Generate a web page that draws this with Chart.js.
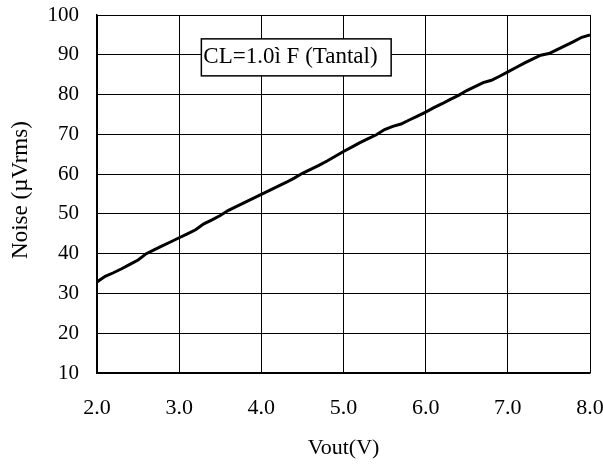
<!DOCTYPE html>
<html>
<head>
<meta charset="utf-8">
<script src="https://cdn.jsdelivr.net/npm/chart.js@4/dist/chart.umd.min.js"></script>
<style>
html,body{margin:0;padding:0;background:#fff;}
#wrap{width:603px;height:466px;}
</style>
</head>
<body>
<div id="wrap"><canvas id="c" width="603" height="466"></canvas></div>
<script>
const vout = [2.0,2.1,2.2,2.3,2.4,2.5,2.6,2.7,2.8,2.9,3.0,3.1,3.2,3.3,3.4,3.5,3.6,3.7,3.8,3.9,4.0,4.1,4.2,4.3,4.4,4.5,4.6,4.7,4.8,4.9,5.0,5.1,5.2,5.3,5.4,5.5,5.6,5.7,5.8,5.9,6.0,6.1,6.2,6.3,6.4,6.5,6.6,6.7,6.8,6.9,7.0,7.1,7.2,7.3,7.4,7.5,7.6,7.7,7.8,7.9,8.0];
const noise = [32.9,34.3,35.2,36.2,37.3,38.4,40.0,41.0,42.0,43.0,44.0,45.0,46.0,47.5,48.5,49.6,50.9,51.9,52.9,53.9,54.9,55.9,56.9,57.9,59.0,60.2,61.2,62.2,63.3,64.5,65.7,66.8,67.9,68.9,69.9,71.2,72.0,72.6,73.6,74.6,75.6,76.7,77.7,78.8,79.8,81.0,82.0,83.0,83.6,84.6,85.7,86.8,87.9,88.9,89.9,90.3,91.3,92.3,93.3,94.4,95.0];
const xTicks = [2,3,4,5,6,7,8];
const yTicks = [10,20,30,40,50,60,70,80,90,100];
const seriesLabel = 'CL=1.0ì F (Tantal)';
const xTitle = 'Vout(V)';
const yTitle = 'Noise (µVrms)';

const FONT = "'Liberation Serif', 'Times New Roman', serif";

const annotPlugin = {
  id: 'annot',
  afterDatasetsDraw(chart) {
    const ctx = chart.ctx;
    const xs = chart.scales.x, ys = chart.scales.y;
    const x1 = xs.getPixelForValue(3.27), x2 = xs.getPixelForValue(5.58);
    const y1 = ys.getPixelForValue(94.0), y2 = ys.getPixelForValue(84.7);
    ctx.save();
    ctx.fillStyle = '#fff';
    ctx.fillRect(x1, y1, x2 - x1, y2 - y1);
    ctx.strokeStyle = '#000';
    ctx.lineWidth = 1.5;
    ctx.strokeRect(x1, y1, x2 - x1, y2 - y1);
    ctx.fillStyle = '#000';
    ctx.font = "23px " + FONT;
    ctx.textAlign = 'left';
    ctx.textBaseline = 'middle';
    ctx.fillText(seriesLabel, x1 + 2, (y1 + y2) / 2);
    ctx.restore();
  },
  afterDraw(chart) {
    const ctx = chart.ctx;
    const xs = chart.scales.x, ys = chart.scales.y;
    const ca = chart.chartArea;
    ctx.save();
    ctx.fillStyle = '#000';
    ctx.textAlign = 'center';
    ctx.textBaseline = 'middle';
    ctx.font = "22px " + FONT;
    ctx.fillText(xTitle, (ca.left + ca.right) / 2, xs.bottom - 18);
    ctx.font = "23px " + FONT;
    ctx.translate(ys.left + 20.5, ys.getPixelForValue(56));
    ctx.rotate(-Math.PI / 2);
    ctx.fillText(yTitle, 0, 0);
    ctx.restore();
  }
};

new Chart(document.getElementById('c'), {
  type: 'line',
  data: {
    datasets: [{
      label: seriesLabel,
      data: vout.map((v, i) => ({x: v, y: noise[i]})),
      borderColor: '#000',
      borderWidth: 3,
      pointRadius: 0,
      tension: 0,
      fill: false
    }]
  },
  options: {
    responsive: false,
    animation: false,
    devicePixelRatio: 1,
    layout: {padding: 0},
    plugins: {legend: {display: false}, tooltip: {enabled: false}},
    scales: {
      x: {
        type: 'linear', min: 2, max: 8,
        afterBuildTicks: s => { s.ticks = xTicks.map(v => ({value: v})); },
        afterFit: s => { s.height = 466 - 373; s.paddingLeft = 0; s.paddingRight = 13; },
        ticks: {color: '#000', font: {family: FONT, size: 22}, padding: 22,
                callback: v => Number(v).toFixed(1)},
        grid: {color: '#000', lineWidth: 1, drawTicks: false},
        border: {color: '#000', width: 1.5},
        title: {display: false, text: xTitle}
      },
      y: {
        type: 'linear', min: 10, max: 100,
        afterBuildTicks: s => { s.ticks = yTicks.map(v => ({value: v})); },
        afterFit: s => { s.width = 97; s.paddingTop = 15; s.paddingBottom = 0; },
        ticks: {color: '#000', font: {family: FONT, size: 21}, padding: 18},
        grid: {color: '#000', lineWidth: 1, drawTicks: false},
        border: {color: '#000', width: 1.5},
        title: {display: false, text: yTitle}
      }
    }
  },
  plugins: [annotPlugin]
});
</script>
</body>
</html>
